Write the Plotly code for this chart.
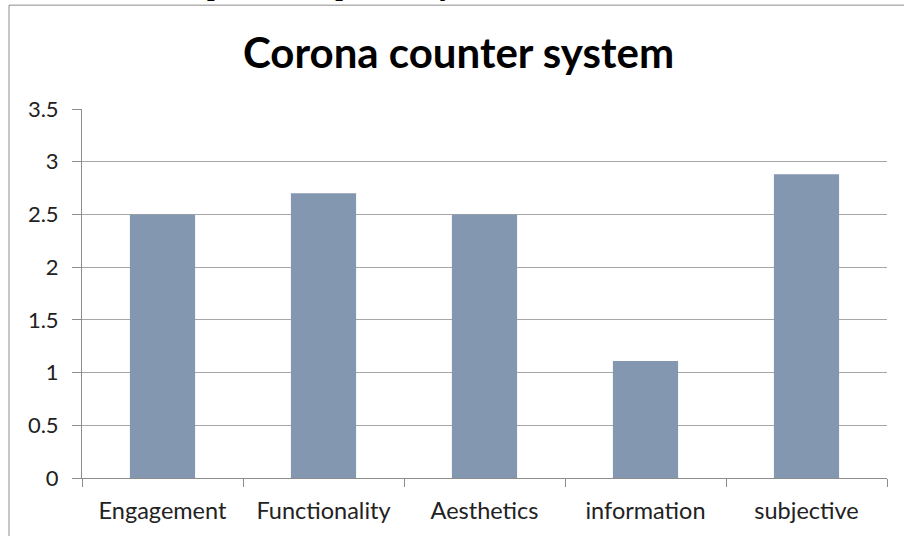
import plotly.graph_objects as go

# Mean scores per rating dimension
categories = ["Engagement", "Functionality", "Aesthetics", "information", "subjective"]
scores = [2.5, 2.7, 2.5, 1.11, 2.88]
y_ticks = [0, 0.5, 1, 1.5, 2, 2.5, 3, 3.5]
y_tick_labels = ["0", "0.5", "1", "1.5", "2", "2.5", "3", "3.5"]

W, H = 904, 536
L, R, T, B = 82, 17, 109, 57.5
pw, ph = W - L - R, H - T - B


def px_x(x):
    return (x - L) / pw


def px_y(y):
    return (H - B - y) / ph


axis_grey = "#8c8c8c"
grid_grey = "#a6a6a6"

fig = go.Figure(
    go.Bar(
        x=categories,
        y=scores,
        marker=dict(color="#8497b0", line=dict(width=0)),
    )
)

fig.update_layout(
    width=W,
    height=H,
    margin=dict(l=L, r=R, t=T, b=B, pad=0),
    paper_bgcolor="white",
    plot_bgcolor="white",
    bargap=0.595,
    showlegend=False,
    font=dict(family="Lato", color="#222222"),
)

fig.update_xaxes(
    type="category",
    showline=True,
    linecolor=axis_grey,
    linewidth=1,
    ticks="outside",
    tickson="boundaries",
    ticklen=8,
    tickcolor=axis_grey,
    showgrid=False,
    ticklabelstandoff=12,
    tickfont=dict(family="Lato", size=23.5, color="#222222"),
)

fig.update_yaxes(
    range=[0, 3.5],
    tickvals=y_ticks,
    ticktext=y_tick_labels,
    showline=True,
    linecolor=axis_grey,
    linewidth=1,
    ticks="outside",
    ticklen=9,
    tickcolor=axis_grey,
    showgrid=True,
    gridcolor=grid_grey,
    gridwidth=1,
    zeroline=False,
    ticklabelstandoff=9,
    tickfont=dict(family="Lato", size=22, color="#222222"),
)

# Chart frame
fig.add_shape(
    type="rect",
    xref="paper", yref="paper",
    x0=px_x(9), x1=px_x(960), y0=px_y(600), y1=px_y(5),
    line=dict(color="#8c8c8c", width=1),
    fillcolor="rgba(0,0,0,0)",
    layer="above",
)

# Chart title
fig.add_annotation(
    xref="paper", yref="paper",
    x=px_x(458), y=px_y(52),
    xanchor="center", yanchor="middle",
    text="<b>Corona counter system</b>",
    showarrow=False,
    font=dict(family="Lato", size=42, color="#000000"),
)

# Body text running just above the frame
fig.add_annotation(
    xref="paper", yref="paper",
    x=px_x(148), y=px_y(-17),
    xanchor="left", yanchor="middle",
    text="compared, respectively,",
    showarrow=False,
    font=dict(family="Liberation Serif", size=33, color="#000000"),
)

fig.write_html("out.html")
